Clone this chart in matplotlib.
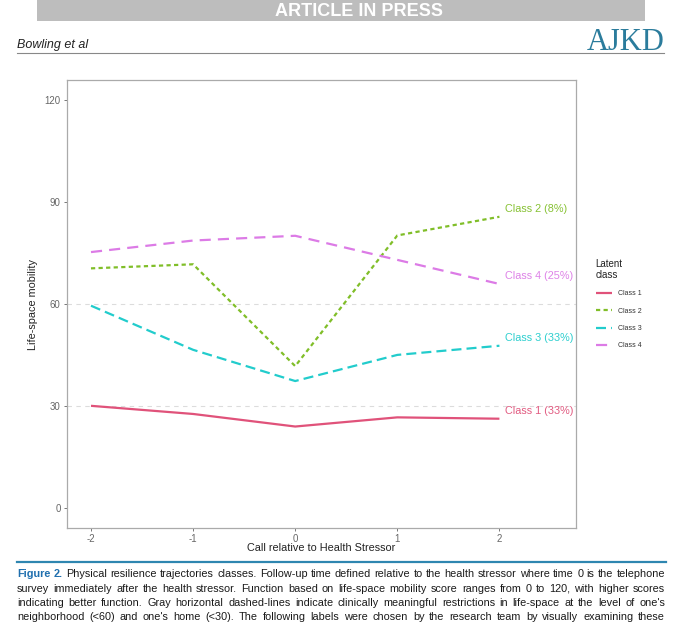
import matplotlib
matplotlib.use('Agg')
import matplotlib.pyplot as plt
from matplotlib.lines import Line2D
from matplotlib.patches import Rectangle

# ---------------- data ----------------
time_points = [-2, -1, 0, 1, 2]
class_names = ["Class 1", "Class 2", "Class 3", "Class 4"]
class1 = [30.0, 27.6, 23.9, 26.6, 26.2]
class2 = [70.5, 71.7, 41.7, 80.2, 85.7]
class3 = [59.5, 46.5, 37.3, 45.0, 47.7]
class4 = [75.3, 78.7, 80.1, 73.0, 65.9]
class_pct = ["33%", "8%", "33%", "25%"]
y_ticks = [0, 30, 60, 90, 120]
x_ticks = [-2, -1, 0, 1, 2]
ref_levels = [30, 60]

caption_lines = [
    "Figure 2. Physical resilience trajectories classes. Follow-up time defined relative to the health stressor where time 0 is the telephone",
    "survey immediately after the health stressor. Function based on life-space mobility score ranges from 0 to 120, with higher scores",
    "indicating better function. Gray horizontal dashed-lines indicate clinically meaningful restrictions in life-space at the level of one's",
    "neighborhood (<60) and one's home (<30). The following labels were chosen by the research team by visually examining these",
]

# ---------------- style ----------------
plt.rcParams['font.family'] = ['Liberation Sans', 'DejaVu Sans']
W, H = 680, 626
fig = plt.figure(figsize=(W / 100, H / 100), dpi=100)
fig.patch.set_facecolor('white')


def fx(x):
    return x / W


def fy(y):
    return 1 - y / H


colors = ['#E0527A', '#80BE28', '#22CCCC', '#DC7BE6']
styles = ['-', (0, (1.9, 1.5)), (0, (4.5, 2.3)), (0, (5.0, 3.2))]
series = [class1, class2, class3, class4]

# ---------------- page header ----------------
fig.add_artist(Rectangle((fx(37), fy(21)), (645 - 37) / W, 21 / H,
                         transform=fig.transFigure, color='#BDBDBD', lw=0))
fig.text(fx(359), fy(11), "ARTICLE IN PRESS", color='white', fontsize=13,
         fontweight='bold', ha='center', va='center')
fig.text(fx(17), fy(48), "Bowling et al", fontsize=9, style='italic',
         ha='left', va='baseline', color='#222222')
fig.text(fx(665), fy(50), "AJKD", fontsize=22, family=['Liberation Serif', 'DejaVu Serif'],
         color='#2B7C9C', ha='right', va='baseline')
fig.add_artist(Line2D([fx(17), fx(664)], [fy(52.5), fy(52.5)], transform=fig.transFigure,
                      color='#888888', lw=0.8))

# ---------------- chart ----------------
ax = fig.add_axes([fx(67), fy(528), (576 - 67) / W, (528 - 80) / H])
ax.set_xlim(-2.235, 2.75)
ax.set_ylim(-6, 126)

for lvl in ref_levels:
    ax.axhline(lvl, color='#DCDCDC', lw=0.8, ls=(0, (4, 4)), zorder=1)

handles = []
for name, vals, c, s, pct in zip(class_names, series, colors, styles, class_pct):
    ln, = ax.plot(time_points, vals, color=c, lw=1.6, ls=s, dash_capstyle='butt',
                  solid_capstyle='butt', zorder=3, label=name)
    handles.append(ln)
    ax.text(time_points[-1] + 0.05, vals[-1] + 2.4, f"{name} ({pct})", color=c,
            fontsize=7.8, ha='left', va='center', alpha=0.95)

ax.set_xticks(x_ticks)
ax.set_xticklabels([str(v) for v in x_ticks])
ax.set_yticks(y_ticks)
ax.tick_params(axis='both', labelsize=6.9, labelcolor='#666666', color='#777777',
               length=2.5, width=0.7, pad=2)
for sp in ax.spines.values():
    sp.set_color('#AAAAAA')
    sp.set_linewidth(0.9)

fig.text(fx(321.5), fy(548), "Call relative to Health Stressor", fontsize=7.8,
         ha='center', va='center', color='#222222')
fig.text(fx(33), fy(304), "Life-space mobility", fontsize=7.8, rotation=90,
         ha='center', va='center', color='#222222')

leg = ax.legend(handles=handles, loc='upper left', bbox_to_anchor=(fx(590), fy(253)),
                bbox_transform=fig.transFigure, frameon=False, fontsize=5.0,
                title="Latent\nclass", title_fontsize=7.0, alignment='left',
                handlelength=2.4, handletextpad=0.9, labelspacing=1.5, borderpad=0.3)
leg.get_title().set_color('#222222')
leg.get_title().set_linespacing(1.15)
for t in leg.get_texts():
    t.set_color('#333333')

# ---------------- caption ----------------
fig.add_artist(Line2D([fx(17), fx(666)], [fy(562), fy(562)], transform=fig.transFigure,
                      color='#2E86B0', lw=1.6))

renderer = fig.canvas.get_renderer()
x_left, x_right = 17, 665
baselines = [577, 591.5, 606, 620.5]

# pick a font size so the longest line fits naturally, then justify each line
probe_fs = 10
probe_w = []
for li, line in enumerate(caption_lines):
    t = fig.text(0, 0, line, fontsize=probe_fs)
    probe_w.append(t.get_window_extent(renderer).width)
    t.remove()
cap_fs = probe_fs * (x_right - x_left) / max(probe_w) * 0.985

for li, (line, yb) in enumerate(zip(caption_lines, baselines)):
    words = line.split(' ')
    items = []
    for wi, w in enumerate(words):
        bold = (li == 0 and wi < 2)
        t = fig.text(0, fy(yb), w, fontsize=cap_fs, ha='left', va='baseline',
                     fontweight='bold' if bold else 'normal',
                     color='#1F6FAE' if bold else '#1A1A1A')
        items.append(t)
    widths = [t.get_window_extent(renderer).width for t in items]
    gap = (x_right - x_left - sum(widths)) / (len(items) - 1)
    x = x_left
    for t, wdt in zip(items, widths):
        t.set_x(fx(x))
        x += wdt + gap

fig.savefig('out.png', dpi=100)
